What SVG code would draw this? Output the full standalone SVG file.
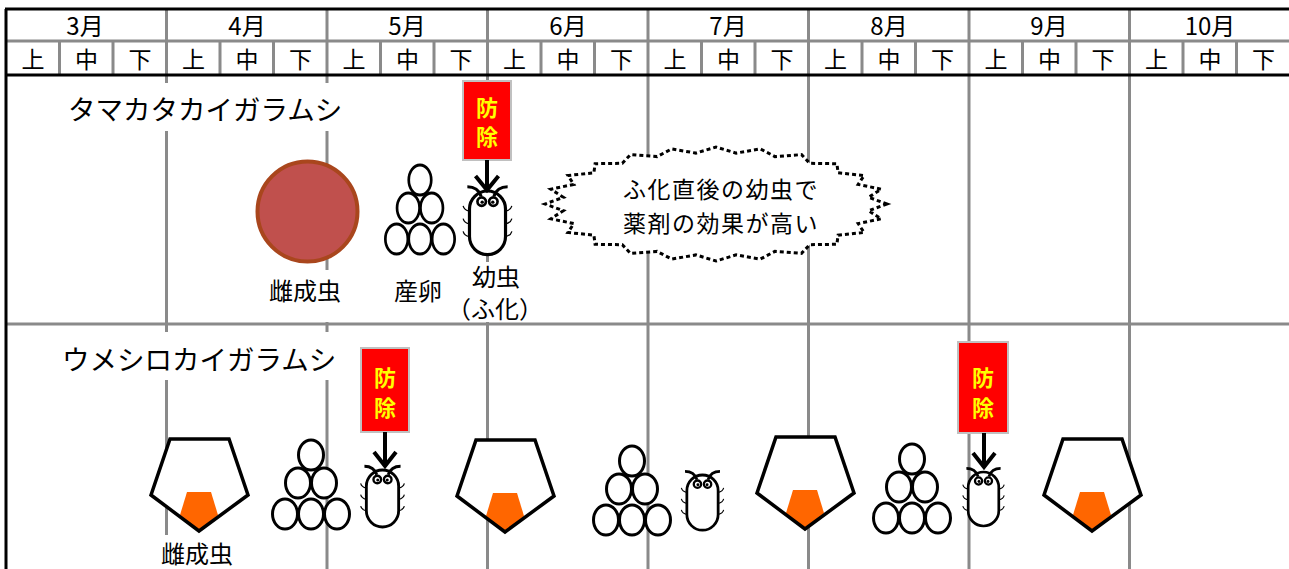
<svg xmlns="http://www.w3.org/2000/svg" xmlns:xlink="http://www.w3.org/1999/xlink" width="1289" height="569" viewBox="0 0 1289 569">
  <style>
    .grid{stroke:#8a8a8a;stroke-width:3;fill:none}
    .frame{stroke:#000;stroke-width:3;fill:none}
    text{font-family:"Noto Sans CJK JP","Liberation Sans",sans-serif;fill:#000}
    .hd{font-size:23px;text-anchor:middle}
    .mo{font-size:24px;text-anchor:middle}
    .title{font-size:27.5px}
    .lbl{font-size:24px;text-anchor:middle}
    .note{font-size:23px;text-anchor:middle;letter-spacing:1.5px}
    .bg{fill:#fff}
    .box{fill:#ff0000;stroke:#c0c0c0;stroke-width:2}
    .boxt{font-size:22px;font-weight:bold;fill:#ffff00;text-anchor:middle}
    .egg{fill:#fff;stroke:#000;stroke-width:3}
    .arrow{stroke:#000;stroke-width:4;fill:none;stroke-linejoin:miter}
  </style>
  <defs>
    <!-- egg mass: six eggs stacked in a triangle, top egg centred at origin -->
    <g id="eggs">
      <ellipse class="egg" cx="0" cy="0" rx="12.5" ry="15"/>
      <ellipse class="egg" cx="-13" cy="28" rx="12.5" ry="15"/>
      <ellipse class="egg" cx="13" cy="28" rx="12.5" ry="15"/>
      <ellipse class="egg" cx="-26" cy="59" rx="12.5" ry="15"/>
      <ellipse class="egg" cx="0" cy="59" rx="12.5" ry="15"/>
      <ellipse class="egg" cx="26" cy="59" rx="12.5" ry="15"/>
    </g>
    <!-- crawler (newly hatched larva), top-centre at origin -->
    <g id="larva">
      <rect x="-17" y="0" width="34" height="60" rx="17" fill="#fff" stroke="#000" stroke-width="3"/>
      <path d="M-6 5 Q-9 -4 -19 -4 M6 5 Q9 -4 19 -4" fill="none" stroke="#000" stroke-width="3"/>
      <circle cx="-5.5" cy="10" r="4" fill="#fff" stroke="#000" stroke-width="2.5"/>
      <circle cx="5.5" cy="10" r="4" fill="#fff" stroke="#000" stroke-width="2.5"/>
      <circle cx="-5" cy="10.5" r="1.6" fill="#000"/>
      <circle cx="5" cy="10.5" r="1.6" fill="#000"/>
      <path d="M-17 19 q-5 -1 -6 -5 M-17 31 q-5 -1 -6 -5 M-17 43 q-5 -1 -6 -5 M17 19 q5 -1 6 -5 M17 31 q5 -1 6 -5 M17 43 q5 -1 6 -5" fill="none" stroke="#000" stroke-width="1.2"/>
    </g>
    <!-- adult female scale: pentagon shell with orange body -->
    <g id="adult">
      <polygon points="19,0 78,0 97,56 48,92 0,56" fill="#fff"/>
      <polygon points="36,53 60,53 67,76 48,92 29,76" fill="#ff6600"/>
      <polygon points="19,0 78,0 97,56 48,92 0,56" fill="none" stroke="#000" stroke-width="3.5"/>
    </g>
  </defs>

  <rect width="1289" height="569" fill="#fff"/>

  <!-- calendar grid -->
  <g id="grid">
    <g class="grid">
      <path d="M6 41 H1289 M6 324 H1289"/>
      <path d="M166.5 9 V569 M327 9 V569 M487.5 9 V569 M648 9 V569 M808.5 9 V569 M969 9 V569 M1129.5 9 V569"/>
      <path d="M59.5 41 V75 M113 41 V75 M220 41 V75 M273.5 41 V75 M380.5 41 V75 M434 41 V75 M541 41 V75 M594.5 41 V75 M701.5 41 V75 M755 41 V75 M862 41 V75 M915.5 41 V75 M1022.5 41 V75 M1076 41 V75 M1183 41 V75 M1236.5 41 V75"/>
    </g>
    <path class="frame" d="M5 9 H1289 M5 75 H1289 M6 9 V569"/>
  </g>

  <!-- header: months and ten-day periods -->
  <g id="header">
    <text class="mo" x="85" y="35">3月</text>
    <text class="mo" x="247" y="35">4月</text>
    <text class="mo" x="407" y="35">5月</text>
    <text class="mo" x="568" y="35">6月</text>
    <text class="mo" x="728" y="35">7月</text>
    <text class="mo" x="889" y="35">8月</text>
    <text class="mo" x="1049" y="35">9月</text>
    <text class="mo" x="1210" y="35">10月</text>
    <g class="hd">
      <text x="33" y="68">上</text><text x="86.5" y="68">中</text><text x="140" y="68">下</text>
      <text x="193.5" y="68">上</text><text x="247" y="68">中</text><text x="300.5" y="68">下</text>
      <text x="354" y="68">上</text><text x="407.5" y="68">中</text><text x="461" y="68">下</text>
      <text x="514.5" y="68">上</text><text x="568" y="68">中</text><text x="621.5" y="68">下</text>
      <text x="675" y="68">上</text><text x="728.5" y="68">中</text><text x="782" y="68">下</text>
      <text x="835.5" y="68">上</text><text x="889" y="68">中</text><text x="942.5" y="68">下</text>
      <text x="996" y="68">上</text><text x="1049.5" y="68">中</text><text x="1103" y="68">下</text>
      <text x="1156.5" y="68">上</text><text x="1210" y="68">中</text><text x="1263.5" y="68">下</text>
    </g>
  </g>

  <!-- タマカタカイガラムシ -->
  <g id="species-tamakata">
    <rect class="bg" x="60" y="83" width="290" height="48"/>
    <text class="title" x="68" y="120">タマカタカイガラムシ</text>
  </g>
  <g id="tamakata-adult">
    <circle cx="307.5" cy="211.5" r="50" fill="#c0504d" stroke="#a9461d" stroke-width="4"/>
    <rect class="bg" x="262" y="270" width="90" height="52"/>
    <text class="lbl" x="305" y="300">雌成虫</text>
  </g>
  <g id="tamakata-eggs">
    <use xlink:href="#eggs" transform="translate(420,180) scale(0.9 1)"/>
    <text class="lbl" x="418" y="300">産卵</text>
  </g>
  <g id="tamakata-larva">
    <use xlink:href="#larva" transform="translate(487.5,191) scale(1.06)"/>
    <rect class="bg" x="455" y="262" width="80" height="60"/>
    <text class="lbl" x="496" y="286">幼虫</text>
    <text class="lbl" x="495" y="318">（ふ化）</text>
  </g>
  <g id="tamakata-control">
    <rect class="box" x="463" y="81" width="48" height="79"/>
    <text class="boxt" x="487" y="116">防</text>
    <text class="boxt" x="487" y="145">除</text>
  </g>
  <g id="tamakata-note">
    <polygon points="887,204 868.6,210.7 881.2,218.8 858.2,223.6 864.1,232.5 838.1,235.2 836.9,244.3 809.7,244.7 801.5,253.4 774.9,251.4 760.3,259.1 736.1,254.9 716,261 695.9,254.9 671.7,259.1 657.1,251.4 630.5,253.4 622.3,244.7 595.1,244.3 593.9,235.2 567.9,232.5 573.8,223.6 550.8,218.8 563.4,210.7 545,204 563.4,197.3 550.8,189.2 573.8,184.4 567.9,175.5 593.9,172.8 595.1,163.7 622.3,163.3 630.5,154.6 657.1,156.6 671.7,148.9 695.9,153.1 716,147 736.1,153.1 760.3,148.9 774.9,156.6 801.5,154.6 809.7,163.3 836.9,163.7 838.1,172.8 864.1,175.5 858.2,184.4 881.2,189.2 868.6,197.3" fill="#fff" stroke="#000" stroke-width="3" stroke-dasharray="4 3"/>
    <text class="note" x="721" y="198">ふ化直後の幼虫で</text>
    <text class="note" x="721" y="232">薬剤の効果が高い</text>
  </g>

  <!-- ウメシロカイガラムシ -->
  <g id="species-umeshiro">
    <rect class="bg" x="55" y="332" width="290" height="48"/>
    <text class="title" x="62" y="370">ウメシロカイガラムシ</text>
  </g>
  <g id="umeshiro-adult-1">
    <use xlink:href="#adult" transform="translate(151,439)"/>
    <rect class="bg" x="150" y="535" width="95" height="34"/>
    <text class="lbl" x="197" y="563">雌成虫</text>
  </g>
  <g id="umeshiro-eggs-1"><use xlink:href="#eggs" transform="translate(311,455)"/></g>
  <g id="umeshiro-larva-1"><use xlink:href="#larva" transform="translate(382.5,470) scale(0.95)"/></g>
  <g id="umeshiro-control-1">
    <rect class="box" x="361" y="348" width="48" height="84"/>
    <text class="boxt" x="385" y="386">防</text>
    <text class="boxt" x="385" y="416">除</text>
  </g>
  <g id="umeshiro-adult-2"><use xlink:href="#adult" transform="translate(457,440)"/></g>
  <g id="umeshiro-eggs-2"><use xlink:href="#eggs" transform="translate(632,461)"/></g>
  <g id="umeshiro-larva-2"><use xlink:href="#larva" transform="translate(702.5,475) scale(0.92)"/></g>
  <g id="umeshiro-adult-3"><use xlink:href="#adult" transform="translate(757,437)"/></g>
  <g id="umeshiro-eggs-3"><use xlink:href="#eggs" transform="translate(912,459)"/></g>
  <g id="umeshiro-larva-3"><use xlink:href="#larva" transform="translate(983.5,472) scale(0.9)"/></g>
  <g id="umeshiro-control-2">
    <rect class="box" x="958" y="342" width="50" height="91"/>
    <text class="boxt" x="983" y="386">防</text>
    <text class="boxt" x="983" y="416">除</text>
  </g>
  <g id="umeshiro-adult-4"><use xlink:href="#adult" transform="translate(1044,439)"/></g>

  <!-- control timing arrows -->
  <g id="connectors">
    <path class="arrow" d="M487 160 V190 M475.5 176 L487 190 L498.5 176"/>
    <path class="arrow" d="M385 432 V466 M374 452 L385 466 L396 452"/>
    <path class="arrow" d="M984 433 V467 M973 453 L984 467 L995 453"/>
  </g>
</svg>
